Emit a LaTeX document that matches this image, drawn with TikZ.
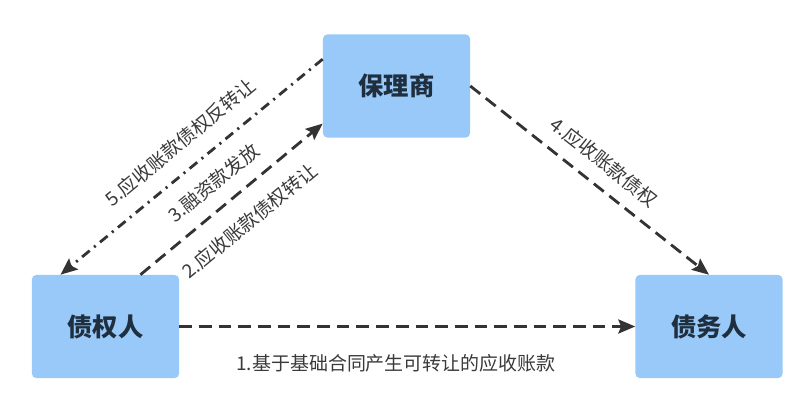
\documentclass[tikz,border=0pt]{standalone}
\usepackage{fontspec}
\newfontfamily\cjk{Noto Sans CJK SC}
\usetikzlibrary{arrows.meta}
\definecolor{boxblue}{HTML}{98C9F8}
\definecolor{boxtext}{HTML}{1F2F3F}
\definecolor{linegray}{HTML}{333333}
\definecolor{labelgray}{HTML}{3A3A3A}
\begin{document}
\begin{tikzpicture}[x = 0.025cm, y = -0.025cm,
        party/.style = {fill = boxblue, rounded corners = 3pt, minimum width = 3.675cm, minimum height = 2.575cm,
            text = boxtext, font = \cjk\bfseries\fontsize{18}{20}\selectfont},
        flow/.style = {draw = linegray, line width = 2pt, -{Stealth[length = 12pt, width = 10pt, inset = 2pt]}},
        dashline/.style = {flow, dash pattern = on 9pt off 5pt},
        dotline/.style = {flow, dash pattern = on 7pt off 4pt on 1.5pt off 4pt},
        tag/.style = {inner sep = 0pt, text = labelgray, font = \cjk\fontsize{13.5}{16}\selectfont}]
            \useasboundingbox (0, 0) rectangle (812, 415);
            \node [party] (factor) at (396.5, 86) {保理商};
            \node [party] (creditor) at (105.5, 326.5) {债权人};
            \node [party] (debtor) at (709, 326.5) {债务人};
            \draw [dashline] (creditor.east) -- (debtor.west)
                node [tag, midway, below = 0.66cm, xshift = -0.28cm] {1.基于基础合同产生可转让的应收账款};
            \draw [dashline] (creditor.56.4) -- (factor.207.6)
                node [tag, pos = 0.5, sloped, below = 0.45cm] {2.应收账款债权转让};
            \draw [dotline] (factor.160.5) -- (creditor.131)
                node [tag, pos = 0.48, sloped, above = 0.4cm] {5.应收账款债权反转让}
                node [tag, pos = 0.48, sloped, below = 0.4cm] {3.融资款发放};
            \draw [dashline] (factor.east) -- (debtor.north)
                node [tag, midway, sloped, above = 0.33cm] {4.应收账款债权};
        \end{tikzpicture}
\end{document}
